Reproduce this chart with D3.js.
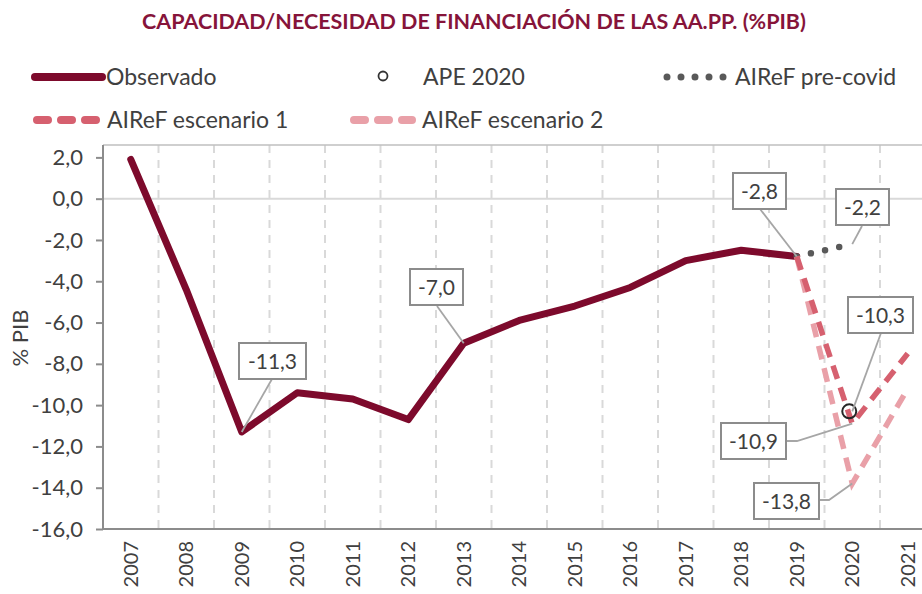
<!DOCTYPE html>
<html>
<head>
<meta charset="utf-8">
<script src="https://cdn.jsdelivr.net/npm/d3@7"></script>
<style>
  body { margin: 0; background: #fff; }
  svg { font-family: "Gill Sans", Lato, "Open Sans", sans-serif; }
</style>
</head>
<body>
<svg id="chart" width="922" height="594"></svg>
<script>
var width = 922, height = 594;

// data
var years = ["2007","2008","2009","2010","2011","2012","2013","2014","2015","2016","2017","2018","2019","2020","2021"];
var observado = [1.9, -4.4, -11.3, -9.4, -9.7, -10.7, -7.0, -5.9, -5.2, -4.3, -3.0, -2.5, -2.8];
var preCovidYears = ["2019", "2020"];
var preCovid = [-2.8, -2.2];
var escYears = ["2019", "2020", "2021"];
var escenario1 = [-2.8, -10.9, -7.5];
var escenario2 = [-2.8, -13.8, -9.2];
var apeYear = "2020", ape = -10.3;
var yTicks = [2, 0, -2, -4, -6, -8, -10, -12, -14, -16];

var colObs = "#7d0a2c", colEsc1 = "#d6606f", colEsc2 = "#e9a0a8", colPre = "#595959";
var textCol = "#404040";

var svg = d3.select("#chart");
var plotLeft = 103, plotTop = 145, plotBottom = 529;

var x = d3.scaleBand().domain(years).range([plotLeft, plotLeft + 15 * 55.5]);
var y = d3.scaleLinear().domain([-16, 2.6]).range([plotBottom, plotTop]);
var cx = function(yr){ return x(yr) + x.bandwidth() / 2; };
var fmt = function(v){ return d3.format(".1f")(v).replace(".", ",").replace("−", "-"); };

// title
svg.append("text")
    .attr("x", 474).attr("y", 29)
    .attr("text-anchor", "middle")
    .attr("font-size", 21.5).attr("font-weight", "bold")
    .attr("fill", "#86143a")
    .text("CAPACIDAD/NECESIDAD DE FINANCIACIÓN DE LAS AA.PP. (%PIB)");

// legend
var lg = svg.append("g").attr("font-size", 23).attr("fill", textCol);
lg.append("line").attr("x1", 35).attr("x2", 102).attr("y1", 77).attr("y2", 77)
    .attr("stroke", colObs).attr("stroke-width", 8).attr("stroke-linecap", "round");
lg.append("text").attr("x", 106).attr("y", 85).text("Observado");
lg.append("circle").attr("cx", 383).attr("cy", 76).attr("r", 4.5)
    .attr("fill", "#fff").attr("stroke", "#333").attr("stroke-width", 1.8);
lg.append("text").attr("x", 423).attr("y", 85).text("APE 2020");
lg.append("line").attr("x1", 667).attr("x2", 724).attr("y1", 77).attr("y2", 77)
    .attr("stroke", colPre).attr("stroke-width", 7).attr("stroke-linecap", "round")
    .attr("stroke-dasharray", "0,14");
lg.append("text").attr("x", 735).attr("y", 85).text("AIReF pre-covid");
lg.append("line").attr("x1", 37).attr("x2", 97).attr("y1", 120).attr("y2", 120)
    .attr("stroke", colEsc1).attr("stroke-width", 8).attr("stroke-linecap", "round")
    .attr("stroke-dasharray", "11,13");
lg.append("text").attr("x", 107).attr("y", 128).text("AIReF escenario 1");
lg.append("line").attr("x1", 354).attr("x2", 412).attr("y1", 120).attr("y2", 120)
    .attr("stroke", colEsc2).attr("stroke-width", 8).attr("stroke-linecap", "round")
    .attr("stroke-dasharray", "11,13");
lg.append("text").attr("x", 422).attr("y", 128).text("AIReF escenario 2");

// grid
var grid = svg.append("g");
grid.selectAll("line.v").data(years.slice(0, -1)).enter().append("line")
    .attr("x1", function(d){ return x(d) + x.bandwidth(); })
    .attr("x2", function(d){ return x(d) + x.bandwidth(); })
    .attr("y1", plotTop).attr("y2", plotBottom)
    .attr("stroke", "#d9d9d9").attr("stroke-width", 2).attr("stroke-dasharray", "8,7");
grid.append("line").attr("x1", plotLeft).attr("x2", width).attr("y1", y(0)).attr("y2", y(0))
    .attr("stroke", "#d9d9d9").attr("stroke-width", 2);
grid.append("line").attr("x1", plotLeft).attr("x2", width).attr("y1", plotTop).attr("y2", plotTop)
    .attr("stroke", "#bfbfbf").attr("stroke-width", 1.5);

// axes
var yAxis = svg.append("g").attr("transform", "translate(" + plotLeft + ",0)")
    .call(d3.axisLeft(y).tickValues(yTicks).tickSize(7).tickPadding(13).tickFormat(fmt));
yAxis.select(".domain").attr("stroke", "#8c8c8c").attr("stroke-width", 2)
    .attr("d", "M0," + plotTop + "V" + plotBottom);
yAxis.selectAll(".tick line").attr("stroke", "#8c8c8c").attr("stroke-width", 2);
yAxis.selectAll(".tick text").attr("font-size", 22).attr("fill", textCol)
    .attr("font-family", "\"Gill Sans\", Lato, sans-serif");

var xAxis = svg.append("g").attr("transform", "translate(0," + plotBottom + ")")
    .call(d3.axisBottom(x).tickSize(0).tickPadding(0));
xAxis.select(".domain").attr("stroke", "#8c8c8c").attr("stroke-width", 2)
    .attr("d", "M" + plotLeft + ",0H" + width);
xAxis.selectAll(".tick text")
    .attr("font-size", 20).attr("fill", textCol)
    .attr("font-family", "\"Gill Sans\", Lato, sans-serif")
    .attr("text-anchor", "end")
    .attr("transform", "translate(0,10) rotate(-90)")
    .attr("dx", "-0.1em").attr("dy", "0.35em")
    .attr("x", 0).attr("y", 0);

svg.append("text")
    .attr("transform", "translate(28,338) rotate(-90)")
    .attr("text-anchor", "middle").attr("font-size", 22).attr("fill", textCol)
    .text("% PIB");

// lines
var line = d3.line().x(function(d){ return cx(d[0]); }).y(function(d){ return y(d[1]); });

svg.append("path").datum(d3.zip(years.slice(0, observado.length), observado))
    .attr("d", line).attr("fill", "none").attr("stroke", colObs)
    .attr("stroke-width", 7).attr("stroke-linejoin", "round").attr("stroke-linecap", "round");

svg.append("path").datum(d3.zip(preCovidYears, preCovid))
    .attr("d", line).attr("fill", "none").attr("stroke", colPre)
    .attr("stroke-width", 6.5).attr("stroke-linecap", "round").attr("stroke-dasharray", "0,14.5");

svg.append("path").datum(d3.zip(escYears, escenario2))
    .attr("d", line).attr("fill", "none").attr("stroke", colEsc2)
    .attr("stroke-width", 5.5).attr("stroke-dasharray", "14,9");

svg.append("path").datum(d3.zip(escYears, escenario1))
    .attr("d", line).attr("fill", "none").attr("stroke", colEsc1)
    .attr("stroke-width", 5.5).attr("stroke-dasharray", "14,9");

svg.append("circle").attr("cx", cx(apeYear) - 3).attr("cy", y(ape)).attr("r", 7)
    .attr("fill", "none").attr("stroke", "#262626").attr("stroke-width", 2);

// callout labels
var labels = [
  {yr: "2009", v: observado[2], bx: 239, by: 343, w: 67, lead: [[272, 379]]},
  {yr: "2013", v: observado[6], bx: 410, by: 269, w: 53, lead: [[437, 306]]},
  {yr: "2019", v: observado[12], bx: 733, by: 173, w: 53, lead: [[760, 209]]},
  {yr: "2020", v: preCovid[1], bx: 836, by: 189, w: 53, lead: [[862, 226]]},
  {yr: "2020", v: ape, bx: 848, by: 297, w: 65, lead: [[881, 333]]},
  {yr: "2020", v: escenario1[1], bx: 721, by: 423, w: 65, lead: [[786, 441], [797, 441]]},
  {yr: "2020", v: escenario2[1], bx: 754, by: 483, w: 65, lead: [[819, 500], [829, 500]]}
];
var lab = svg.append("g");
labels.forEach(function(l){
  var pts = l.lead.concat([[cx(l.yr), y(l.v)]]);
  lab.append("path").attr("d", d3.line()(pts))
      .attr("fill", "none").attr("stroke", "#a6a6a6").attr("stroke-width", 1.8);
});
labels.forEach(function(l){
  lab.append("rect").attr("x", l.bx).attr("y", l.by).attr("width", l.w).attr("height", 36)
      .attr("fill", "#fff").attr("stroke", "#8c8c8c").attr("stroke-width", 2);
  lab.append("text").attr("x", l.bx + l.w / 2).attr("y", l.by + 26)
      .attr("text-anchor", "middle").attr("font-size", 21).attr("fill", textCol)
      .text(fmt(l.v));
});
</script>
</body>
</html>
